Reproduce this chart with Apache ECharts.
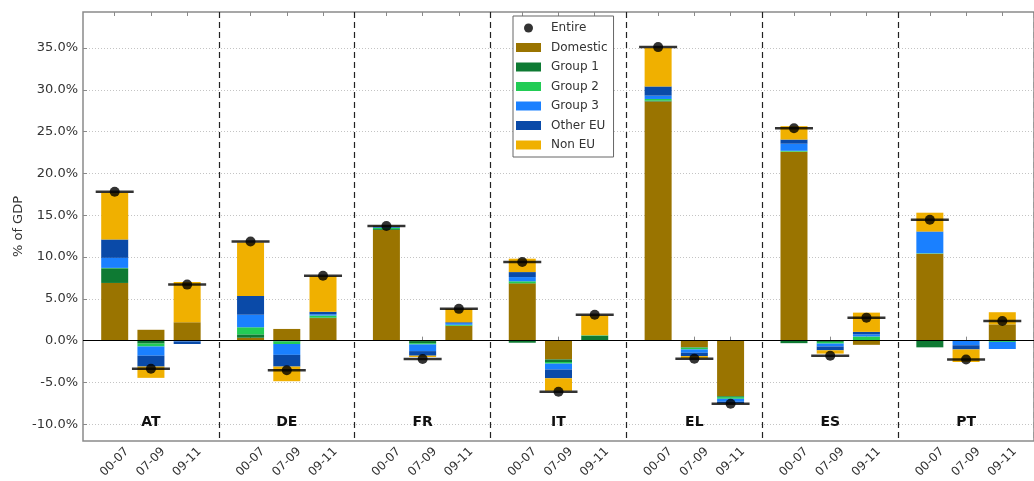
<!DOCTYPE html>
<html>
<head>
<meta charset="utf-8">
<script src="https://cdn.jsdelivr.net/npm/echarts@6/dist/echarts.min.js"></script>
<style>
  html, body { margin: 0; padding: 0; background: #fff; }
  #chart { width: 1034px; height: 481px; }
</style>
</head>
<body>
<div id="chart"></div>
<script>
// Contributions to the change in debt, % of GDP, by creditor group
const countries = ['AT', 'DE', 'FR', 'IT', 'EL', 'ES', 'PT'];
const periods = ['00-07', '07-09', '09-11'];

// one value per country and period: AT 00-07, AT 07-09, AT 09-11, DE 00-07, ...
const domestic = [6.9, 1.3, 2.2,   0.35, 1.4, 2.7,   13.25, -0.05, 1.75,  6.85, -2.25, 0.05,  28.6, -0.8, -6.65,  22.6, 0.05, -0.5,  10.4, 0, 1.95];
const group1   = [1.75, -0.35, 0,  0.4, -0.1, 0.05,  0.1, -0.25, 0.05,    -0.25, -0.3, 0.55,  0.1, -0.05, -0.1,   -0.3, -0.15, 0.05, -0.8, 0, 0];
const group2   = [0.05, -0.35, 0,  0.85, -0.3, 0.25, 0.15, -0.15, 0.1,    0.25, -0.2, 0.05,   0.2, -0.2, -0.2,    0.1, -0.2, 0.45,   0.05, 0, -0.15];
const group3   = [1.2, -1.1, -0.1, 1.5, -1.3, 0.15,  0.1, -0.8, 0.2,      0.5, -0.7, 0,       0.4, -0.4, -0.35,   0.85, -0.35, 0.25, 2.55, -0.55, -0.85];
const otherEU  = [2.2, -1.3, -0.3, 2.25, -1.4, 0.3,  0.05, -0.55, 0.1,    0.6, -1.05, 0,      1.1, -0.4, -0.2,    0.5, -0.45, 0.3,   0.05, -0.5, 0];
const nonEU    = [5.6, -1.35, 4.8, 6.4, -1.75, 4.25, 0.1, -0.15, 1.6,     1.6, -1.5, 2.35,    4.6, -0.25, -0.05,  1.6, -0.4, 2.3,    2.25, -1.5, 1.45];
const entire   = [17.8, -3.35, 6.7, 11.85, -3.55, 7.75, 13.7, -2.2, 3.8,  9.4, -6.1, 3.1,     35.1, -2.15, -7.55, 25.4, -1.8, 2.75,  14.45, -2.25, 2.35];

const yTicks = [-10, -5, 0, 5, 10, 15, 20, 25, 30, 35];

const componentNames = ['Domestic', 'Group 1', 'Group 2', 'Group 3', 'Other EU', 'Non EU'];
const componentColors = ['#9a7400', '#0e7a33', '#22cc55', '#1a80ff', '#0a4aa8', '#f0b000'];
const componentValues = [domestic, group1, group2, group3, otherEU, nonEU];

// Each country occupies 15 narrow slots; the three periods sit on slots 3, 7 and 11.
const SLOTS = 15;
const BAR_SLOTS = [3, 7, 11];
const slotKeys = [];
const slotPeriod = [];
countries.forEach(function (c) {
  for (let s = 0; s < SLOTS; s++) {
    slotKeys.push(c + '_' + s);
    slotPeriod.push(BAR_SLOTS.indexOf(s));
  }
});
function isBarSlot(i) { return slotPeriod[i] >= 0; }
function toSlots(values) {
  const out = slotKeys.map(function () { return '-'; });
  values.forEach(function (v, k) {
    const g = Math.floor(k / periods.length), p = k % periods.length;
    out[g * SLOTS + BAR_SLOTS[p]] = v;
  });
  return out;
}

const FONT = 'DejaVu Sans';
const FRAME = '#8a8a8a';

const barSeries = componentNames.map(function (name, i) {
  const s = {
    name: name,
    type: 'bar',
    stack: 'total',
    barWidth: 27,
    xAxisIndex: 0,
    itemStyle: { color: componentColors[i] },
    data: toSlots(componentValues[i])
  };
  if (i === 0) {
    s.markLine = {
      silent: true,
      symbol: 'none',
      label: { show: false },
      lineStyle: { color: '#000', width: 1.2, type: 'solid' },
      data: [{ yAxis: 0 }]
    };
  }
  return s;
});

const chart = echarts.init(document.getElementById('chart'), null, { renderer: 'canvas' });
chart.setOption({
  animation: false,
  backgroundColor: '#fff',
  textStyle: { fontFamily: FONT },
  grid: {
    left: 83, top: 12, width: 957.6, height: 429,
    show: true, borderColor: FRAME, borderWidth: 1.5, backgroundColor: 'transparent'
  },
  legend: {
    orient: 'vertical',
    left: 513, top: 16,
    padding: [6, 6, 6, 3],
    itemGap: 7.5,
    itemWidth: 25,
    itemHeight: 9,
    backgroundColor: '#fff',
    borderColor: '#666',
    borderWidth: 1,
    borderRadius: 0,
    textStyle: { fontFamily: FONT, fontSize: 12, color: '#333', padding: [0, 0, 0, 5] },
    data: [{ name: 'Entire', icon: 'circle' }].concat(componentNames.map(function (n) { return { name: n, icon: 'rect' }; }))
  },
  xAxis: [
    {
      type: 'category',
      data: slotKeys,
      position: 'bottom',
      boundaryGap: true,
      axisLine: { show: false },
      axisTick: {
        show: true, inside: true, length: 4, alignWithLabel: true,
        interval: function (i) { return isBarSlot(i); },
        lineStyle: { color: FRAME, width: 1 }
      },
      axisLabel: {
        show: true, rotate: 45, margin: 21,
        align: 'center', verticalAlign: 'middle',
        interval: function (i) { return isBarSlot(i); },
        formatter: function (v, i) { return slotPeriod[i] >= 0 ? periods[slotPeriod[i]] : ''; },
        fontFamily: FONT, fontSize: 12, color: '#333'
      },
      splitLine: { show: false }
    },
    {
      type: 'category',
      data: countries,
      position: 'bottom',
      boundaryGap: true,
      axisLine: { show: false },
      axisTick: { show: false },
      axisLabel: {
        show: true, inside: true, margin: 12,
        fontFamily: FONT, fontSize: 14, fontWeight: 'bold', color: '#111'
      },
      splitLine: {
        show: true,
        interval: function (i) { return i > 0; },
        lineStyle: { color: '#222', width: 1.2, type: [6, 4] }
      }
    },
    {
      type: 'category',
      data: slotKeys,
      position: 'top',
      boundaryGap: true,
      axisLine: { show: false },
      axisTick: {
        show: true, inside: true, length: 4, alignWithLabel: true,
        interval: function (i) { return isBarSlot(i); },
        lineStyle: { color: FRAME, width: 1 }
      },
      axisLabel: { show: false },
      splitLine: { show: false }
    }
  ],
  yAxis: {
    type: 'value',
    min: -12,
    max: 39.3,
    name: '% of GDP',
    nameLocation: 'middle',
    nameGap: 58,
    nameMoveOverlap: false,
    nameTextStyle: { fontFamily: FONT, fontSize: 13, color: '#333' },
    axisLine: { show: false },
    axisTick: { show: true, inside: true, length: 4, customValues: yTicks, lineStyle: { color: FRAME } },
    axisLabel: {
      customValues: yTicks, margin: 5,
      formatter: function (v) { return v.toFixed(1) + '%'; },
      fontFamily: FONT, fontSize: 13, color: '#333'
    },
    splitLine: { show: true, lineStyle: { color: '#c4c4c4', width: 1, type: [1, 2] } }
  },
  series: barSeries.concat([
    {
      name: 'Entire level',
      type: 'scatter',
      xAxisIndex: 0,
      symbol: 'rect',
      symbolSize: [38, 2.5],
      itemStyle: { color: '#000' },
      z: 4,
      silent: true,
      data: toSlots(entire)
    },
    {
      name: 'Entire',
      type: 'scatter',
      xAxisIndex: 0,
      symbol: 'circle',
      symbolSize: 10,
      itemStyle: { color: '#000' },
      z: 5,
      data: toSlots(entire)
    }
  ])
});
</script>
</body>
</html>
